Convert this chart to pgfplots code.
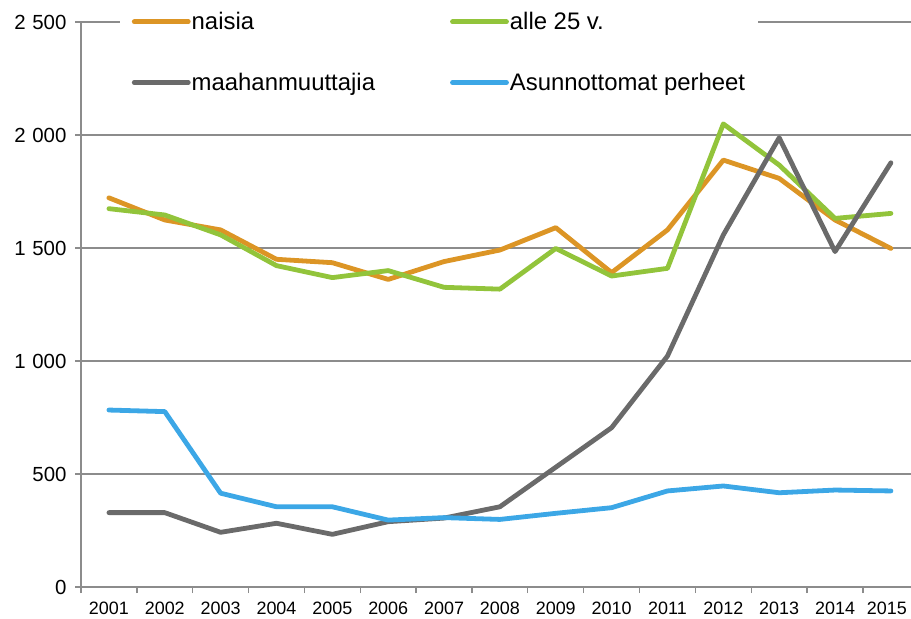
\documentclass[border=0pt]{standalone}
\usepackage{pgfplots}
\pgfplotsset{compat=1.18}
\usepackage{fontspec}
\setmainfont{Liberation Sans}
\definecolor{cOrange}{HTML}{DC9525}
\definecolor{cGreen}{HTML}{92C43B}
\definecolor{cGray}{HTML}{6A6A6A}
\definecolor{cBlue}{HTML}{3CA7E6}
\definecolor{cGrid}{HTML}{8C8C8C}
\begin{document}
\begin{tikzpicture}
\useasboundingbox (-81bp,-32bp) rectangle (830bp,587bp);
\begin{axis}[
  scale only axis,
  width=830bp, height=565bp,
  xmin=0.5, xmax=15.36,
  ymin=0, ymax=2500,
  axis x line*=bottom,
  axis y line*=left,
  axis line style={cGrid, line width=1.3bp},
  xtick={1,...,15},
  xticklabels={2001,2002,2003,2004,2005,2006,2007,2008,2009,2010,2011,2012,2013,2014,2015\hspace*{8bp}},
  minor xtick={0.5,1.5,...,14.5},
  major x tick style={draw=none},
  minor x tick style={cGrid, line width=1.3bp},
  minor tick length=6bp,
  major tick length=6bp,
  tick align=outside,
  ytick={0,500,1000,1500,2000,2500},
  yticklabels={0,500,1\hspace{0.33em}000,1\hspace{0.33em}500,2\hspace{0.33em}000,2\hspace{0.33em}500},
  y tick style={cGrid, line width=1.3bp},
  ymajorgrids,
  grid style={cGrid, line width=1.3bp},
  xticklabel style={font=\fontsize{18}{20}\selectfont, text=black, yshift=-5bp},
  yticklabel style={font=\fontsize{20.5}{23}\selectfont, text=black, xshift=-5bp},
  clip=false,
  legend columns=2,
  legend image code/.code={\draw[#1, line width=4.8bp, line cap=round] (0bp,0bp) -- (54bp,0bp);},
  legend style={draw=none, fill=white, font=\fontsize{24}{28}\selectfont,
    at={(axis description cs:0.0466,1.028)}, anchor=north west,
    inner xsep=12bp, inner ysep=4bp,
    nodes={inner xsep=1bp, inner ysep=2bp},
    row sep=38bp,
    /tikz/every even column/.append style={column sep=74bp}},
  legend cell align=left,
]
\addplot[cOrange, line width=4.8bp, line join=round, line cap=round] coordinates {
(1,1722) (2,1624) (3,1580) (4,1450) (5,1435) (6,1361) (7,1440) (8,1491) (9,1590) (10,1391) (11,1580) (12,1889) (13,1808) (14,1624) (15,1498)};
\addlegendentry{naisia}
\addplot[cGreen, line width=4.8bp, line join=round, line cap=round] coordinates {
(1,1674) (2,1646) (3,1558) (4,1422) (5,1369) (6,1400) (7,1326) (8,1318) (9,1498) (10,1376) (11,1410) (12,2049) (13,1867) (14,1631) (15,1653)};
\addlegendentry{alle 25 v.}
\addplot[cGray, line width=4.8bp, line join=round, line cap=round] coordinates {
(1,329) (2,329) (3,242) (4,282) (5,233) (6,289) (7,305) (8,355) (9,530) (10,705) (11,1022) (12,1558) (13,1988) (14,1484) (15,1877)};
\addlegendentry{maahanmuuttajia}
\addplot[cBlue, line width=4.8bp, line join=round, line cap=round] coordinates {
(1,783) (2,776) (3,415) (4,355) (5,355) (6,296) (7,307) (8,299) (9,326) (10,351) (11,425) (12,447) (13,417) (14,429) (15,425)};
\addlegendentry{Asunnottomat perheet}
\end{axis}
\end{tikzpicture}
\end{document}
